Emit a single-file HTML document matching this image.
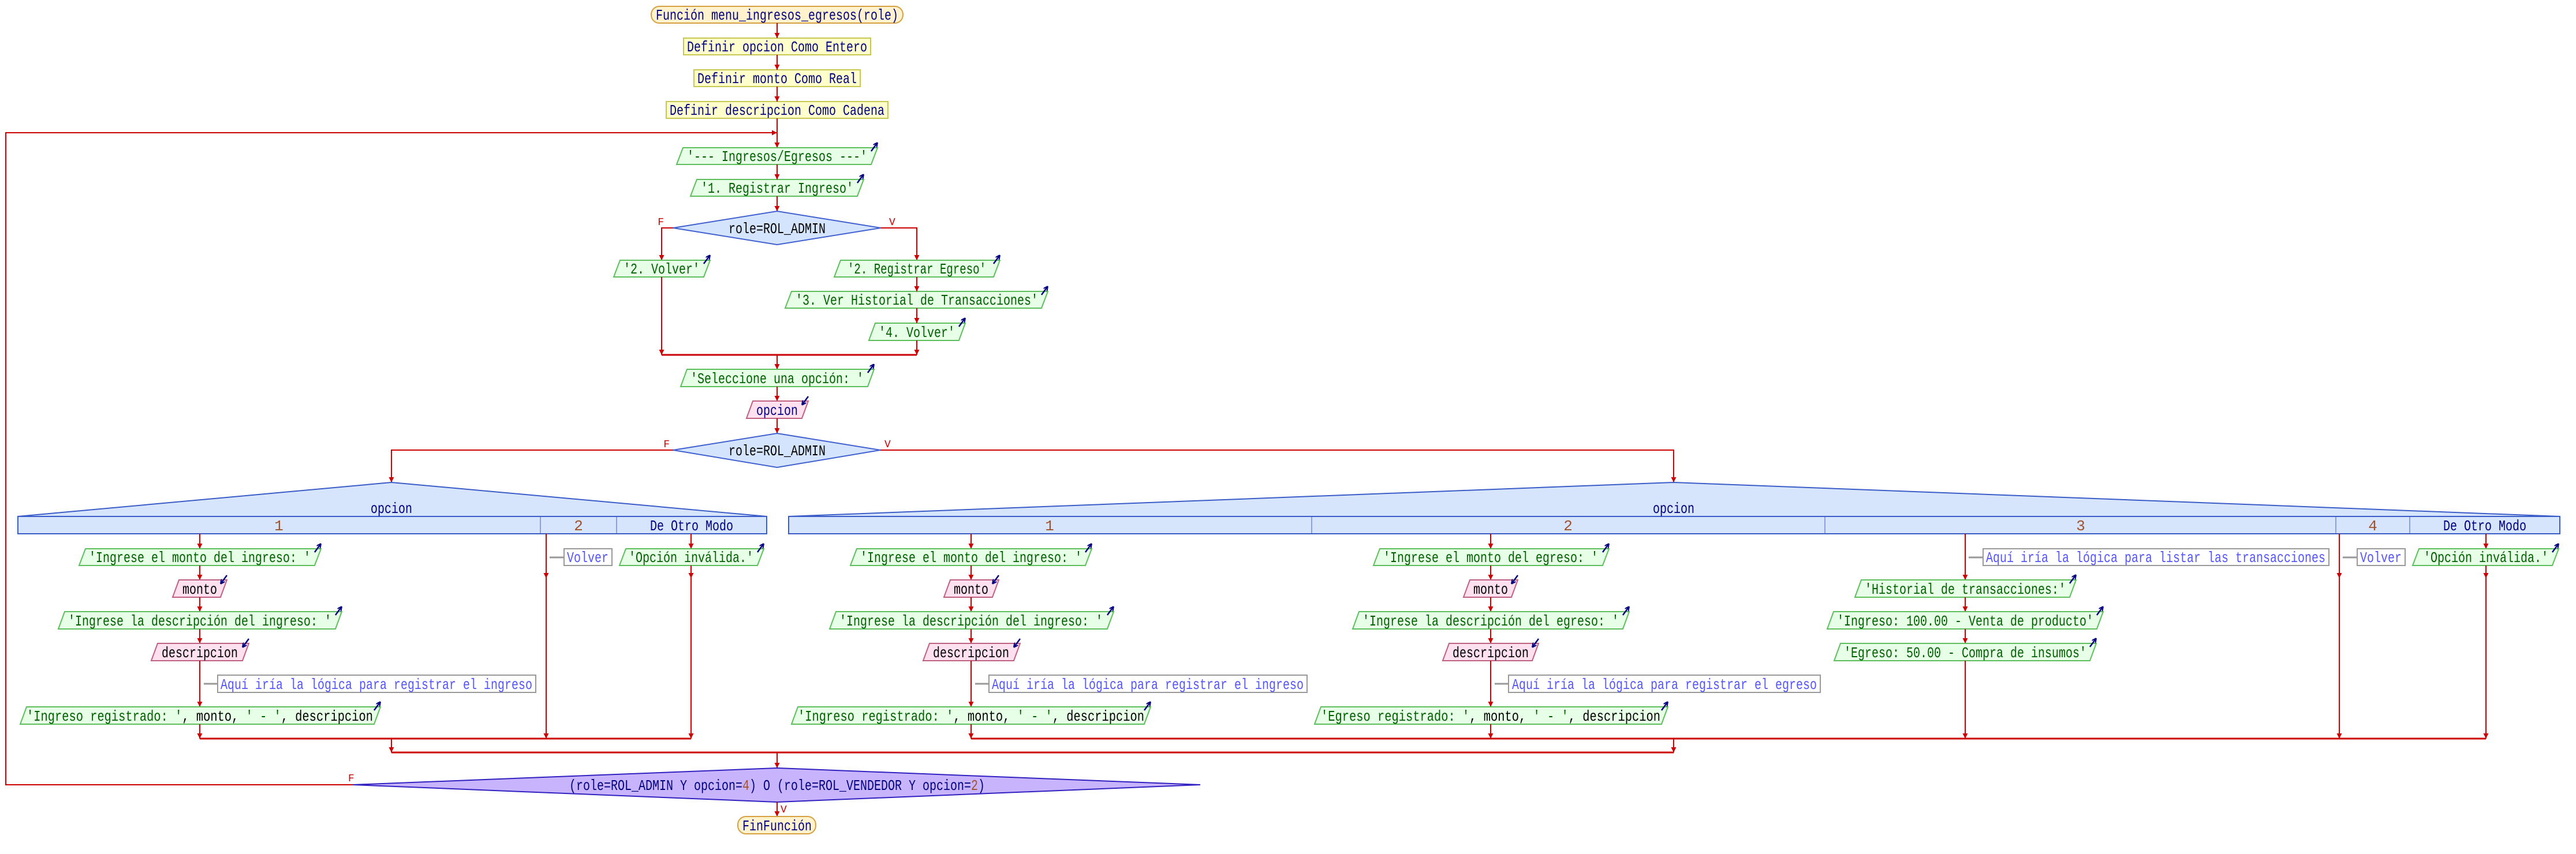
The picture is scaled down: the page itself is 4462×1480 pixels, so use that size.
<!DOCTYPE html>
<html><head><meta charset="utf-8"><style>
html,body{margin:0;padding:0;background:#fff;width:4462px;height:1480px;overflow:hidden}
svg{display:block}
text{font-family:"Liberation Mono","DejaVu Sans Mono",monospace;font-size:26px}
.ln{stroke:#cc0000;stroke-width:2;fill:none}
.mg{stroke:#cc0000;stroke-width:3;fill:none}
.out{fill:#e6ffe6;stroke:#5cbf5c;stroke-width:2}
.rd{fill:#ffe0ee;stroke:#c06080;stroke-width:2}
.df{fill:#ffffcc;stroke:#c8c850;stroke-width:2}
.pl{fill:#fff2cc;stroke:#d6a040;stroke-width:2}
.cm{fill:#fff;stroke:#999;stroke-width:2}
.dsh{stroke:#999;stroke-width:3}
.tg{fill:#006000}
.tb{fill:#000}
.tn{fill:#000080}
.tc{fill:#5555ff}
.tr{fill:#a0522d}
.lab{fill:#cc0000;font-size:18px}
.ic{stroke:#000080;stroke-width:2.5;fill:none}
</style></head><body>
<svg width="4462" height="1480" viewBox="0 0 4462 1480" xmlns="http://www.w3.org/2000/svg">
<defs>
<marker id="a" viewBox="0 0 10 10" refX="10" refY="5" markerWidth="9" markerHeight="9" markerUnits="userSpaceOnUse" orient="auto"><path d="M0,0L10,5L0,10z" fill="#cc0000"/></marker>
<marker id="n" viewBox="0 0 10 10" refX="10" refY="5" markerWidth="8" markerHeight="8" markerUnits="userSpaceOnUse" orient="auto"><path d="M0,0L10,5L0,10" fill="none" stroke="#000080" stroke-width="2.5"/></marker>
</defs>

<rect class="pl" x="1128" y="11" width="436" height="29" rx="14"/>
<text class="tn" x="1346" y="34" text-anchor="middle" textLength="420" lengthAdjust="spacingAndGlyphs">Función menu_ingresos_egresos(role)</text>
<rect class="df" x="1184" y="66" width="324" height="29"/>
<text class="tn" x="1346" y="89" text-anchor="middle" textLength="312" lengthAdjust="spacingAndGlyphs">Definir opcion Como Entero</text>
<rect class="df" x="1202" y="121" width="288" height="29"/>
<text class="tn" x="1346" y="144" text-anchor="middle" textLength="276" lengthAdjust="spacingAndGlyphs">Definir monto Como Real</text>
<rect class="df" x="1154" y="176" width="384" height="29"/>
<text class="tn" x="1346" y="199" text-anchor="middle" textLength="372" lengthAdjust="spacingAndGlyphs">Definir descripcion Como Cadena</text>
<line class="ln" x1="1346" y1="40" x2="1346" y2="66" marker-end="url(#a)"/>
<line class="ln" x1="1346" y1="95" x2="1346" y2="121" marker-end="url(#a)"/>
<line class="ln" x1="1346" y1="150" x2="1346" y2="176" marker-end="url(#a)"/>
<line class="ln" x1="1346" y1="205" x2="1346" y2="256" marker-end="url(#a)"/>
<polyline class="ln" points="612,1360 10,1360 10,230 1346,230" marker-end="url(#a)"/>

<polygon class="out" points="1183,256 1520,256 1509,285 1172,285"/>
<text class="tg" x="1346" y="279" text-anchor="middle" textLength="312" lengthAdjust="spacingAndGlyphs">'--- Ingresos/Egresos ---'</text>
<line class="ic" x1="1509" y1="262" x2="1520" y2="247" marker-end="url(#n)"/>
<polygon class="out" points="1207,311 1496,311 1485,340 1196,340"/>
<text class="tg" x="1346" y="334" text-anchor="middle" textLength="264" lengthAdjust="spacingAndGlyphs">'1. Registrar Ingreso'</text>
<line class="ic" x1="1485" y1="317" x2="1496" y2="302" marker-end="url(#n)"/>
<line class="ln" x1="1346" y1="285" x2="1346" y2="311" marker-end="url(#a)"/>
<line class="ln" x1="1346" y1="340" x2="1346" y2="366" marker-end="url(#a)"/>

<polygon points="1166,395 1346,366 1526,395 1346,424" fill="#d4e4fc" stroke="#4060d0" stroke-width="2"/>
<text class="tb" x="1346" y="404" text-anchor="middle" textLength="168" lengthAdjust="spacingAndGlyphs">role=ROL_ADMIN</text>
<text class="lab" x="1150" y="390" text-anchor="end">F</text>
<text class="lab" x="1540" y="390">V</text>
<polyline class="ln" points="1166,395 1146,395 1146,451" marker-end="url(#a)"/>
<polyline class="ln" points="1526,395 1588,395 1588,451" marker-end="url(#a)"/>

<polygon class="out" points="1074,451 1230,451 1219,480 1063,480"/>
<text class="tg" x="1146" y="474" text-anchor="middle" textLength="132" lengthAdjust="spacingAndGlyphs">'2. Volver'</text>
<line class="ic" x1="1219" y1="457" x2="1230" y2="442" marker-end="url(#n)"/>
<polygon class="out" points="1456,451 1732,451 1721,480 1445,480"/>
<text class="tg" x="1588" y="474" text-anchor="middle" textLength="240" lengthAdjust="spacingAndGlyphs">'2. Registrar Egreso'</text>
<line class="ic" x1="1721" y1="457" x2="1732" y2="442" marker-end="url(#n)"/>
<polygon class="out" points="1371,505 1815,505 1804,534 1360,534"/>
<text class="tg" x="1588" y="528" text-anchor="middle" textLength="420" lengthAdjust="spacingAndGlyphs">'3. Ver Historial de Transacciones'</text>
<line class="ic" x1="1804" y1="511" x2="1815" y2="496" marker-end="url(#n)"/>
<polygon class="out" points="1516,560 1672,560 1661,590 1505,590"/>
<text class="tg" x="1588" y="584" text-anchor="middle" textLength="132" lengthAdjust="spacingAndGlyphs">'4. Volver'</text>
<line class="ic" x1="1661" y1="566" x2="1672" y2="551" marker-end="url(#n)"/>
<line class="ln" x1="1588" y1="480" x2="1588" y2="505" marker-end="url(#a)"/>
<line class="ln" x1="1588" y1="534" x2="1588" y2="560" marker-end="url(#a)"/>
<line class="ln" x1="1588" y1="590" x2="1588" y2="615" marker-end="url(#a)"/>
<line class="ln" x1="1146" y1="480" x2="1146" y2="615" marker-end="url(#a)"/>
<line class="mg" x1="1146" y1="615" x2="1588" y2="615"/>
<line class="ln" x1="1346" y1="615" x2="1346" y2="640" marker-end="url(#a)"/>

<polygon class="out" points="1190,640 1514,640 1503,670 1179,670"/>
<text class="tg" x="1346" y="664" text-anchor="middle" textLength="300" lengthAdjust="spacingAndGlyphs">'Seleccione una opción: '</text>
<line class="ic" x1="1503" y1="646" x2="1514" y2="631" marker-end="url(#n)"/>
<line class="ln" x1="1346" y1="670" x2="1346" y2="695" marker-end="url(#a)"/>
<polygon class="rd" points="1304,695 1400,695 1389,725 1293,725"/>
<text class="tn" x="1346" y="719" text-anchor="middle" textLength="72" lengthAdjust="spacingAndGlyphs">opcion</text>
<line class="ic" x1="1400" y1="687" x2="1389" y2="702" marker-end="url(#n)"/>
<line class="ln" x1="1346" y1="725" x2="1346" y2="751" marker-end="url(#a)"/>

<polygon points="1166,780 1346,751 1525,780 1346,810" fill="#d4e4fc" stroke="#4060d0" stroke-width="2"/>
<text class="tb" x="1346" y="789" text-anchor="middle" textLength="168" lengthAdjust="spacingAndGlyphs">role=ROL_ADMIN</text>
<text class="lab" x="1160" y="775" text-anchor="end">F</text>
<text class="lab" x="1532" y="775">V</text>
<polyline class="ln" points="1166,780 678,780 678,836" marker-end="url(#a)"/>
<polyline class="ln" points="1525,780 2899,780 2899,836" marker-end="url(#a)"/>

<polygon points="678,836 1328,895 31,895" fill="#d6e4fc" stroke="#3a5cc8" stroke-width="2"/>
<rect x="31" y="895" width="1297" height="30" fill="#d6e4fc" stroke="#3a5cc8" stroke-width="2"/>
<line x1="936" y1="895" x2="936" y2="925" stroke="#3a5cc8" stroke-width="1"/>
<line x1="1068" y1="895" x2="1068" y2="925" stroke="#3a5cc8" stroke-width="1"/>
<text class="tn" x="678" y="889" text-anchor="middle" textLength="72" lengthAdjust="spacingAndGlyphs">opcion</text>
<text class="tr" x="483" y="919" text-anchor="middle">1</text>
<text class="tr" x="1002" y="919" text-anchor="middle">2</text>
<text class="tn" x="1198" y="919" text-anchor="middle" textLength="144" lengthAdjust="spacingAndGlyphs">De Otro Modo</text>

<line class="ln" x1="346" y1="925" x2="346" y2="951" marker-end="url(#a)"/>
<polygon class="out" points="148,951 556,951 545,980 137,980"/>
<text class="tg" x="346" y="974" text-anchor="middle" textLength="384" lengthAdjust="spacingAndGlyphs">'Ingrese el monto del ingreso: '</text>
<line class="ic" x1="545" y1="957" x2="556" y2="942" marker-end="url(#n)"/>
<line class="ln" x1="346" y1="980" x2="346" y2="1005" marker-end="url(#a)"/>
<polygon class="rd" points="310,1005 393,1005 382,1035 299,1035"/>
<text class="tb" x="346" y="1029" text-anchor="middle" textLength="60" lengthAdjust="spacingAndGlyphs">monto</text>
<line class="ic" x1="393" y1="997" x2="382" y2="1012" marker-end="url(#n)"/>
<line class="ln" x1="346" y1="1035" x2="346" y2="1060" marker-end="url(#a)"/>
<polygon class="out" points="112,1060 592,1060 581,1090 101,1090"/>
<text class="tg" x="346" y="1084" text-anchor="middle" textLength="456" lengthAdjust="spacingAndGlyphs">'Ingrese la descripción del ingreso: '</text>
<line class="ic" x1="581" y1="1066" x2="592" y2="1051" marker-end="url(#n)"/>
<line class="ln" x1="346" y1="1090" x2="346" y2="1115" marker-end="url(#a)"/>
<polygon class="rd" points="273,1115 431,1115 420,1145 262,1145"/>
<text class="tb" x="346" y="1139" text-anchor="middle" textLength="132" lengthAdjust="spacingAndGlyphs">descripcion</text>
<line class="ic" x1="431" y1="1107" x2="420" y2="1122" marker-end="url(#n)"/>
<line class="ln" x1="346" y1="1145" x2="346" y2="1225" marker-end="url(#a)"/>
<line class="dsh" x1="353" y1="1185" x2="377" y2="1185"/>
<rect class="cm" x="377" y="1170" width="551" height="30"/>
<text class="tc" x="652" y="1194" text-anchor="middle" textLength="540" lengthAdjust="spacingAndGlyphs">Aquí iría la lógica para registrar el ingreso</text>
<polygon class="out" points="46,1225 659,1225 648,1255 35,1255"/>
<text x="346" y="1249" text-anchor="middle" textLength="600" lengthAdjust="spacingAndGlyphs"><tspan class="tg">'Ingreso registrado: '</tspan><tspan class="tb">, monto, </tspan><tspan class="tg">' - '</tspan><tspan class="tb">, descripcion</tspan></text>
<line class="ic" x1="648" y1="1231" x2="659" y2="1216" marker-end="url(#n)"/>
<line class="ln" x1="346" y1="1255" x2="346" y2="1280" marker-end="url(#a)"/>

<line class="ln" x1="946" y1="925" x2="946" y2="1002" marker-end="url(#a)"/>
<line class="ln" x1="946" y1="1002" x2="946" y2="1280" marker-end="url(#a)"/>
<line class="dsh" x1="952" y1="966" x2="977" y2="966"/>
<rect class="cm" x="977" y="951" width="83" height="29"/>
<text class="tc" x="1018" y="974" text-anchor="middle" textLength="72" lengthAdjust="spacingAndGlyphs">Volver</text>

<line class="ln" x1="1197" y1="925" x2="1197" y2="951" marker-end="url(#a)"/>
<polygon class="out" points="1084,951 1323,951 1312,980 1073,980"/>
<text class="tg" x="1197" y="974" text-anchor="middle" textLength="216" lengthAdjust="spacingAndGlyphs">'Opción inválida.'</text>
<line class="ic" x1="1312" y1="957" x2="1323" y2="942" marker-end="url(#n)"/>
<line class="ln" x1="1197" y1="980" x2="1197" y2="1002" marker-end="url(#a)"/>
<line class="ln" x1="1197" y1="1002" x2="1197" y2="1280" marker-end="url(#a)"/>
<line class="mg" x1="346" y1="1280" x2="1197" y2="1280"/>
<line class="ln" x1="678" y1="1280" x2="678" y2="1304" marker-end="url(#a)"/>

<polygon points="2899,836 4434,895 1366,895" fill="#d6e4fc" stroke="#3a5cc8" stroke-width="2"/>
<rect x="1366" y="895" width="3068" height="30" fill="#d6e4fc" stroke="#3a5cc8" stroke-width="2"/>
<line x1="2272" y1="895" x2="2272" y2="925" stroke="#3a5cc8" stroke-width="1"/>
<line x1="3161" y1="895" x2="3161" y2="925" stroke="#3a5cc8" stroke-width="1"/>
<line x1="4046" y1="895" x2="4046" y2="925" stroke="#3a5cc8" stroke-width="1"/>
<line x1="4174" y1="895" x2="4174" y2="925" stroke="#3a5cc8" stroke-width="1"/>
<text class="tn" x="2899" y="889" text-anchor="middle" textLength="72" lengthAdjust="spacingAndGlyphs">opcion</text>
<text class="tr" x="1818" y="919" text-anchor="middle">1</text>
<text class="tr" x="2716" y="919" text-anchor="middle">2</text>
<text class="tr" x="3604" y="919" text-anchor="middle">3</text>
<text class="tr" x="4110" y="919" text-anchor="middle">4</text>
<text class="tn" x="4304" y="919" text-anchor="middle" textLength="144" lengthAdjust="spacingAndGlyphs">De Otro Modo</text>

<line class="ln" x1="1682" y1="925" x2="1682" y2="951" marker-end="url(#a)"/>
<polygon class="out" points="1484,951 1891,951 1880,980 1473,980"/>
<text class="tg" x="1682" y="974" text-anchor="middle" textLength="384" lengthAdjust="spacingAndGlyphs">'Ingrese el monto del ingreso: '</text>
<line class="ic" x1="1880" y1="957" x2="1891" y2="942" marker-end="url(#n)"/>
<line class="ln" x1="1682" y1="980" x2="1682" y2="1005" marker-end="url(#a)"/>
<polygon class="rd" points="1646,1005 1730,1005 1719,1035 1635,1035"/>
<text class="tb" x="1682" y="1029" text-anchor="middle" textLength="60" lengthAdjust="spacingAndGlyphs">monto</text>
<line class="ic" x1="1730" y1="997" x2="1719" y2="1012" marker-end="url(#n)"/>
<line class="ln" x1="1682" y1="1035" x2="1682" y2="1060" marker-end="url(#a)"/>
<polygon class="out" points="1448,1060 1929,1060 1918,1090 1437,1090"/>
<text class="tg" x="1682" y="1084" text-anchor="middle" textLength="456" lengthAdjust="spacingAndGlyphs">'Ingrese la descripción del ingreso: '</text>
<line class="ic" x1="1918" y1="1066" x2="1929" y2="1051" marker-end="url(#n)"/>
<line class="ln" x1="1682" y1="1090" x2="1682" y2="1115" marker-end="url(#a)"/>
<polygon class="rd" points="1610,1115 1767,1115 1756,1145 1599,1145"/>
<text class="tb" x="1682" y="1139" text-anchor="middle" textLength="132" lengthAdjust="spacingAndGlyphs">descripcion</text>
<line class="ic" x1="1767" y1="1107" x2="1756" y2="1122" marker-end="url(#n)"/>
<line class="ln" x1="1682" y1="1145" x2="1682" y2="1225" marker-end="url(#a)"/>
<line class="dsh" x1="1689" y1="1185" x2="1713" y2="1185"/>
<rect class="cm" x="1713" y="1170" width="551" height="30"/>
<text class="tc" x="1988" y="1194" text-anchor="middle" textLength="540" lengthAdjust="spacingAndGlyphs">Aquí iría la lógica para registrar el ingreso</text>
<polygon class="out" points="1382,1225 1993,1225 1982,1255 1371,1255"/>
<text x="1682" y="1249" text-anchor="middle" textLength="600" lengthAdjust="spacingAndGlyphs"><tspan class="tg">'Ingreso registrado: '</tspan><tspan class="tb">, monto, </tspan><tspan class="tg">' - '</tspan><tspan class="tb">, descripcion</tspan></text>
<line class="ic" x1="1982" y1="1231" x2="1993" y2="1216" marker-end="url(#n)"/>
<line class="ln" x1="1682" y1="1255" x2="1682" y2="1280" marker-end="url(#a)"/>

<line class="ln" x1="2582" y1="925" x2="2582" y2="951" marker-end="url(#a)"/>
<polygon class="out" points="2390,951 2787,951 2776,980 2379,980"/>
<text class="tg" x="2582" y="974" text-anchor="middle" textLength="372" lengthAdjust="spacingAndGlyphs">'Ingrese el monto del egreso: '</text>
<line class="ic" x1="2776" y1="957" x2="2787" y2="942" marker-end="url(#n)"/>
<line class="ln" x1="2582" y1="980" x2="2582" y2="1005" marker-end="url(#a)"/>
<polygon class="rd" points="2546,1005 2629,1005 2618,1035 2535,1035"/>
<text class="tb" x="2582" y="1029" text-anchor="middle" textLength="60" lengthAdjust="spacingAndGlyphs">monto</text>
<line class="ic" x1="2629" y1="997" x2="2618" y2="1012" marker-end="url(#n)"/>
<line class="ln" x1="2582" y1="1035" x2="2582" y2="1060" marker-end="url(#a)"/>
<polygon class="out" points="2354,1060 2822,1060 2811,1090 2343,1090"/>
<text class="tg" x="2582" y="1084" text-anchor="middle" textLength="444" lengthAdjust="spacingAndGlyphs">'Ingrese la descripción del egreso: '</text>
<line class="ic" x1="2811" y1="1066" x2="2822" y2="1051" marker-end="url(#n)"/>
<line class="ln" x1="2582" y1="1090" x2="2582" y2="1115" marker-end="url(#a)"/>
<polygon class="rd" points="2510,1115 2665,1115 2654,1145 2499,1145"/>
<text class="tb" x="2582" y="1139" text-anchor="middle" textLength="132" lengthAdjust="spacingAndGlyphs">descripcion</text>
<line class="ic" x1="2665" y1="1107" x2="2654" y2="1122" marker-end="url(#n)"/>
<line class="ln" x1="2582" y1="1145" x2="2582" y2="1225" marker-end="url(#a)"/>
<line class="dsh" x1="2589" y1="1185" x2="2613" y2="1185"/>
<rect class="cm" x="2613" y="1170" width="540" height="30"/>
<text class="tc" x="2883" y="1194" text-anchor="middle" textLength="528" lengthAdjust="spacingAndGlyphs">Aquí iría la lógica para registrar el egreso</text>
<polygon class="out" points="2288,1225 2889,1225 2878,1255 2277,1255"/>
<text x="2582" y="1249" text-anchor="middle" textLength="588" lengthAdjust="spacingAndGlyphs"><tspan class="tg">'Egreso registrado: '</tspan><tspan class="tb">, monto, </tspan><tspan class="tg">' - '</tspan><tspan class="tb">, descripcion</tspan></text>
<line class="ic" x1="2878" y1="1231" x2="2889" y2="1216" marker-end="url(#n)"/>
<line class="ln" x1="2582" y1="1255" x2="2582" y2="1280" marker-end="url(#a)"/>

<line class="ln" x1="3404" y1="925" x2="3404" y2="1005" marker-end="url(#a)"/>
<line class="dsh" x1="3410" y1="966" x2="3435" y2="966"/>
<rect class="cm" x="3435" y="951" width="599" height="29"/>
<text class="tc" x="3734" y="974" text-anchor="middle" textLength="588" lengthAdjust="spacingAndGlyphs">Aquí iría la lógica para listar las transacciones</text>
<polygon class="out" points="3224,1005 3596,1005 3585,1035 3213,1035"/>
<text class="tg" x="3404" y="1029" text-anchor="middle" textLength="348" lengthAdjust="spacingAndGlyphs">'Historial de transacciones:'</text>
<line class="ic" x1="3585" y1="1011" x2="3596" y2="996" marker-end="url(#n)"/>
<line class="ln" x1="3404" y1="1035" x2="3404" y2="1060" marker-end="url(#a)"/>
<polygon class="out" points="3176,1060 3643,1060 3632,1090 3165,1090"/>
<text class="tg" x="3404" y="1084" text-anchor="middle" textLength="444" lengthAdjust="spacingAndGlyphs">'Ingreso: 100.00 - Venta de producto'</text>
<line class="ic" x1="3632" y1="1066" x2="3643" y2="1051" marker-end="url(#n)"/>
<line class="ln" x1="3404" y1="1090" x2="3404" y2="1115" marker-end="url(#a)"/>
<polygon class="out" points="3188,1115 3631,1115 3620,1145 3177,1145"/>
<text class="tg" x="3404" y="1139" text-anchor="middle" textLength="420" lengthAdjust="spacingAndGlyphs">'Egreso: 50.00 - Compra de insumos'</text>
<line class="ic" x1="3620" y1="1121" x2="3631" y2="1106" marker-end="url(#n)"/>
<line class="ln" x1="3404" y1="1145" x2="3404" y2="1280" marker-end="url(#a)"/>

<line class="ln" x1="4052" y1="925" x2="4052" y2="1002" marker-end="url(#a)"/>
<line class="ln" x1="4052" y1="1002" x2="4052" y2="1280" marker-end="url(#a)"/>
<line class="dsh" x1="4058" y1="966" x2="4083" y2="966"/>
<rect class="cm" x="4083" y="951" width="83" height="29"/>
<text class="tc" x="4124" y="974" text-anchor="middle" textLength="72" lengthAdjust="spacingAndGlyphs">Volver</text>

<line class="ln" x1="4306" y1="925" x2="4306" y2="951" marker-end="url(#a)"/>
<polygon class="out" points="4190,951 4432,951 4421,980 4179,980"/>
<text class="tg" x="4306" y="974" text-anchor="middle" textLength="216" lengthAdjust="spacingAndGlyphs">'Opción inválida.'</text>
<line class="ic" x1="4421" y1="957" x2="4432" y2="942" marker-end="url(#n)"/>
<line class="ln" x1="4306" y1="980" x2="4306" y2="1002" marker-end="url(#a)"/>
<line class="ln" x1="4306" y1="1002" x2="4306" y2="1280" marker-end="url(#a)"/>
<line class="mg" x1="1682" y1="1280" x2="4306" y2="1280"/>
<line class="ln" x1="2899" y1="1280" x2="2899" y2="1304" marker-end="url(#a)"/>

<line class="mg" x1="678" y1="1304" x2="2899" y2="1304"/>
<line class="ln" x1="1346" y1="1304" x2="1346" y2="1331" marker-end="url(#a)"/>
<polygon points="612,1360 1346,1331 2079,1360 1346,1390" fill="#c8b4fc" stroke="#3020c0" stroke-width="2"/>
<text class="tn" x="1346" y="1369" text-anchor="middle" textLength="720" lengthAdjust="spacingAndGlyphs">(role=ROL_ADMIN Y opcion=<tspan class="tr">4</tspan>) O (role=ROL_VENDEDOR Y opcion=<tspan class="tr">2</tspan>)</text>
<text class="lab" x="603" y="1354">F</text>
<text class="lab" x="1352" y="1408">V</text>
<line class="ln" x1="1346" y1="1390" x2="1346" y2="1415" marker-end="url(#a)"/>
<rect class="pl" x="1278" y="1415" width="135" height="30" rx="14"/>
<text class="tn" x="1346" y="1439" text-anchor="middle" textLength="120" lengthAdjust="spacingAndGlyphs">FinFunción</text>
</svg>
</body></html>
